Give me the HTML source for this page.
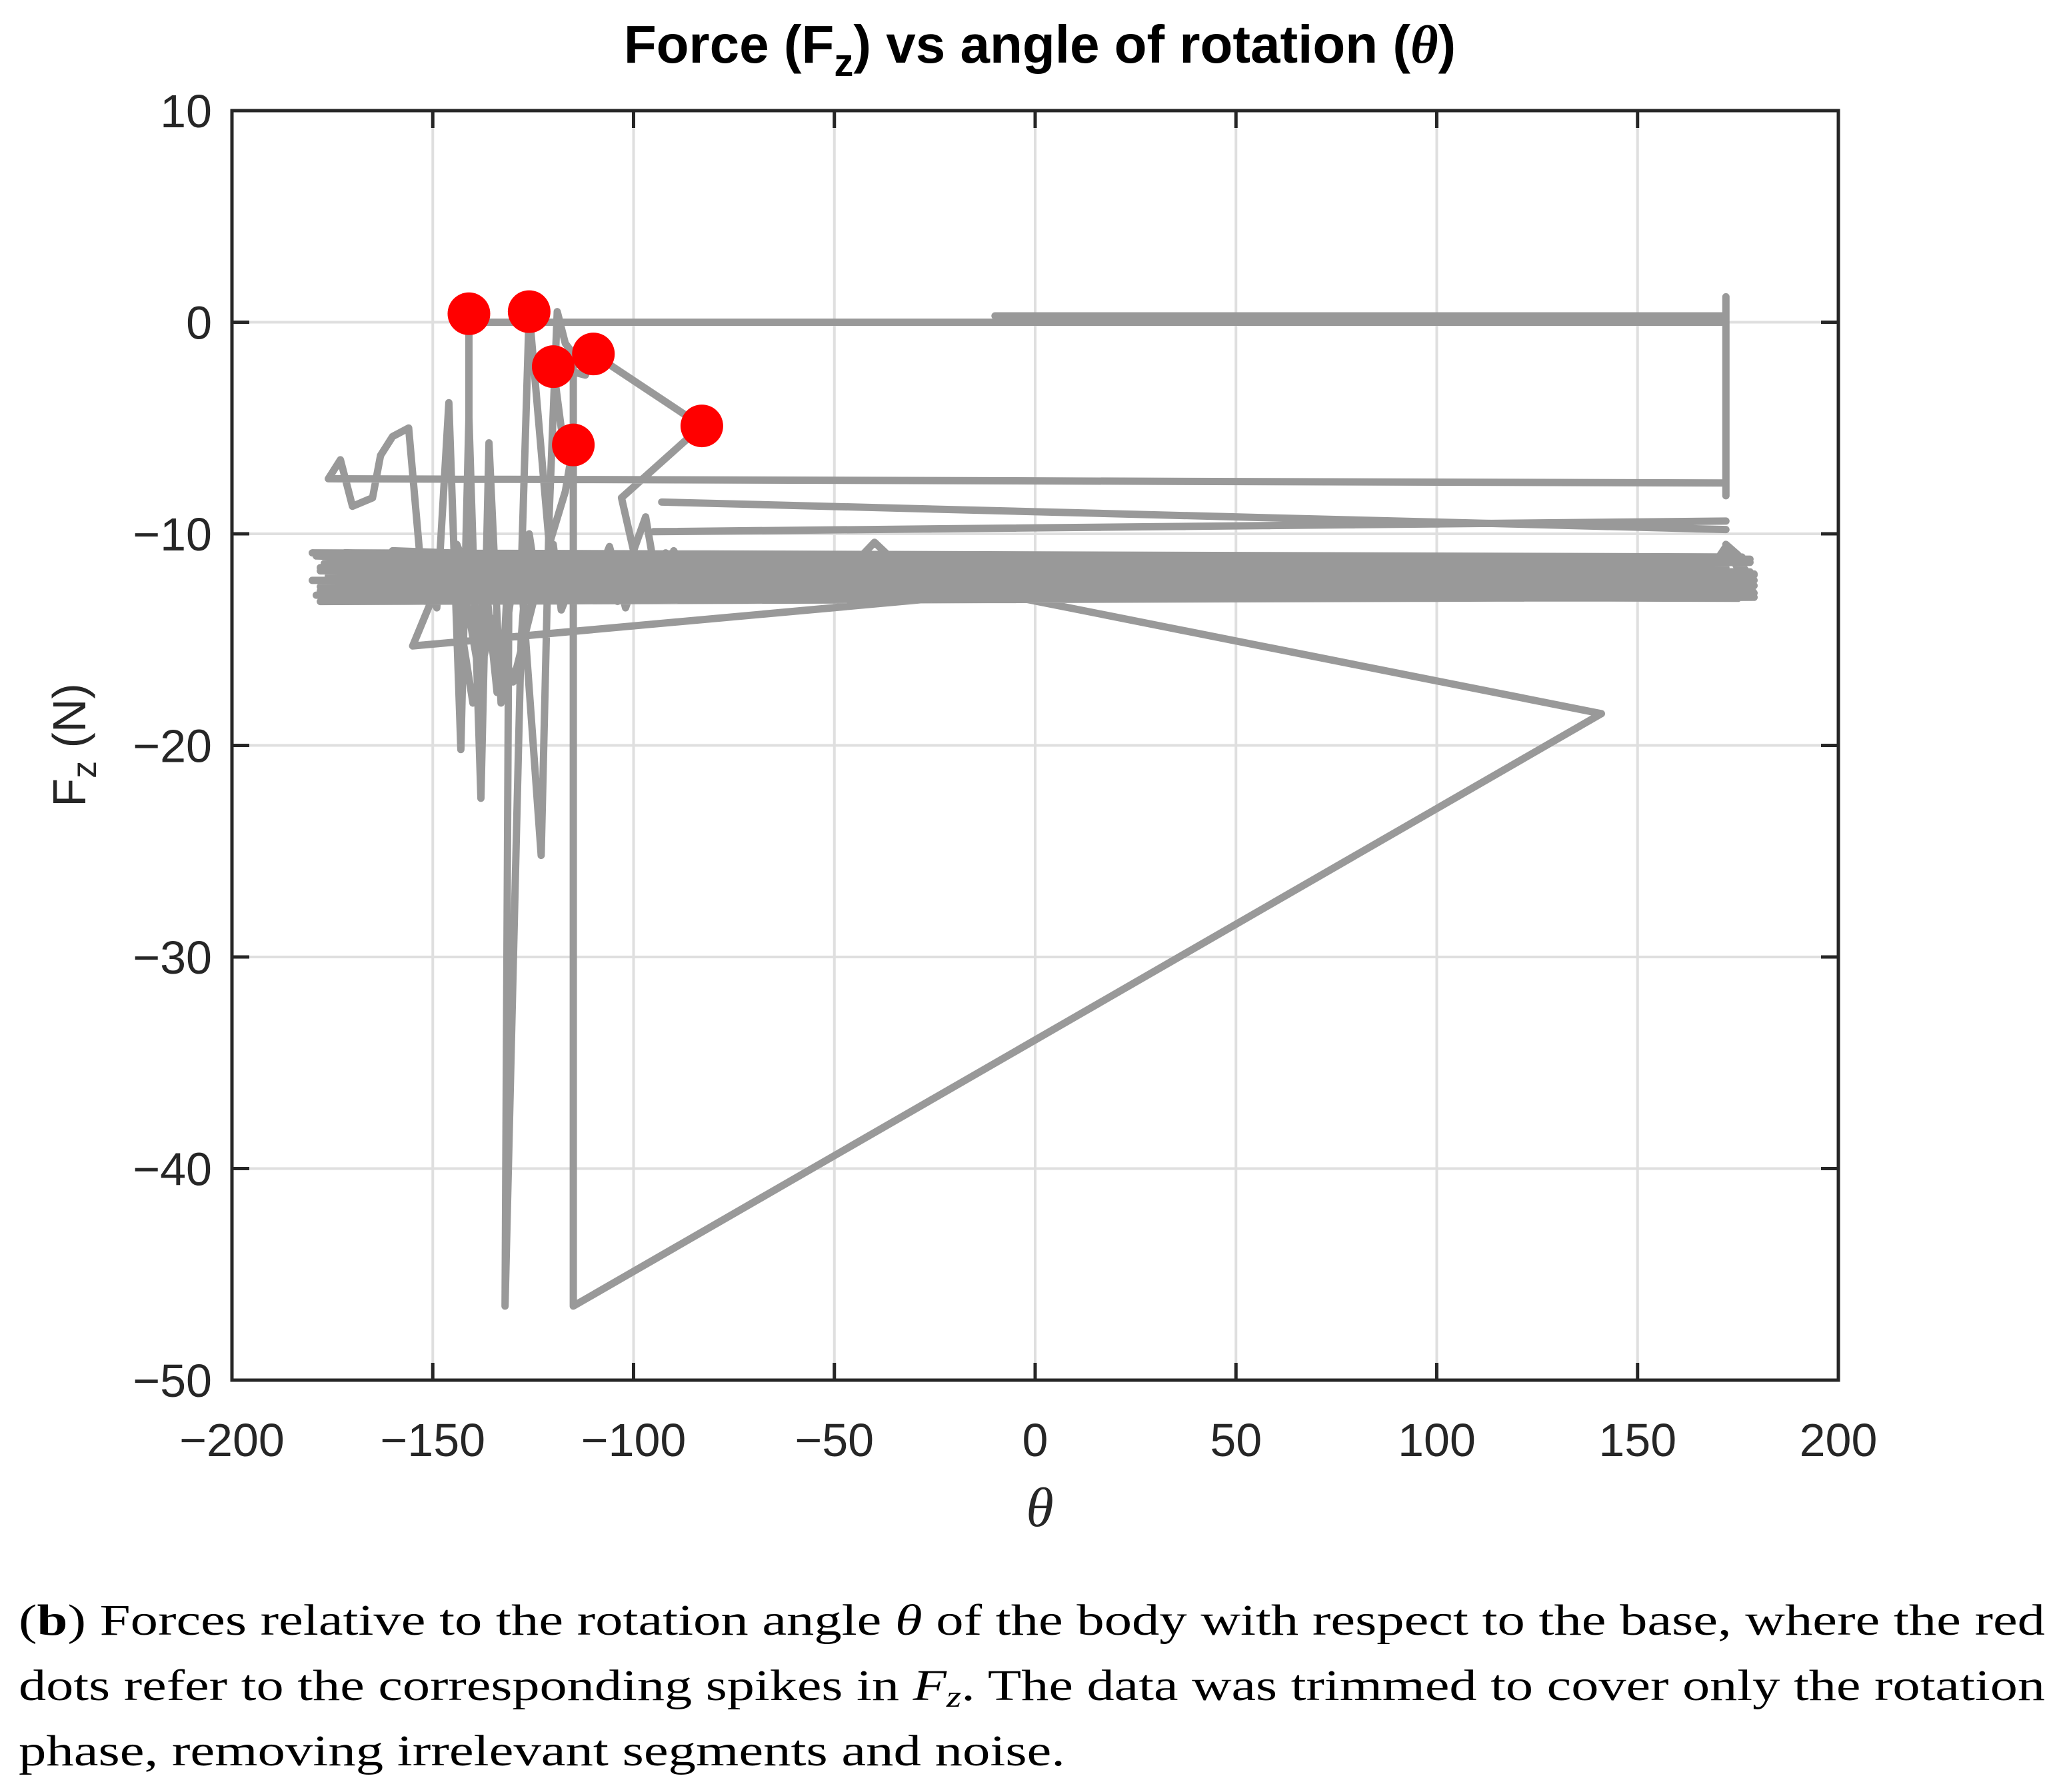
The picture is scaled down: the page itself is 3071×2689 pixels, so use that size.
<!DOCTYPE html>
<html><head><meta charset="utf-8"><style>
html,body{margin:0;padding:0;background:#fff;}
svg{display:block;}
</style></head><body>
<svg id="chart" width="3071" height="2689" viewBox="0 0 3071 2689" xmlns="http://www.w3.org/2000/svg">
<rect x="0" y="0" width="3071" height="2689" fill="#fff"/>
<text x="1560" y="94" text-anchor="middle" font-family="Liberation Sans, sans-serif" font-weight="bold" font-size="80" fill="#000">Force (F<tspan font-size="58" dy="20">z</tspan><tspan dy="-20">) vs angle of rotation (</tspan><tspan font-family="Liberation Serif, serif" font-style="italic">θ</tspan>)</text>
<g id="grid"></g>
<g id="series"></g>
<g id="markers"></g>
<rect x="348" y="166" width="2410" height="1905" fill="none" stroke="#262626" stroke-width="5"/>
<g id="ticks"></g>
<text x="1560" y="2290" text-anchor="middle" font-family="Liberation Serif, serif" font-style="italic" font-size="84" fill="#262626">θ</text>
<text transform="translate(128,1118) rotate(-90)" text-anchor="middle" font-family="Liberation Sans, sans-serif" font-size="70" fill="#262626">F<tspan font-size="52" dy="16">z</tspan><tspan dy="-16"> (N)</tspan></text>
<g font-family="Liberation Serif, serif" font-size="66" fill="#000">
<text x="28" y="2453" textLength="3040" lengthAdjust="spacingAndGlyphs">(<tspan font-weight="bold">b</tspan>) Forces relative to the rotation angle <tspan font-style="italic">θ</tspan> of the body with respect to the base, where the red</text>
<text x="28" y="2551" textLength="3040" lengthAdjust="spacingAndGlyphs">dots refer to the corresponding spikes in <tspan font-style="italic">F<tspan font-size="46" dy="10">z</tspan></tspan><tspan dy="-10">. The data was trimmed to cover only the rotation</tspan></text>
<text x="28" y="2649" textLength="1570" lengthAdjust="spacingAndGlyphs">phase, removing irrelevant segments and noise.</text>
</g>
</svg>
<script>
const xTicks = [-200,-150,-100,-50,0,50,100,150,200];
const yTicks = [10,0,-10,-20,-30,-40,-50];
// NaN entries separate independent trace segments
const theta = [
 -83,-103,-100,-97,-94,-92,NaN,
 -95,172,NaN,
 -93,172,NaN,
 -83,-110,-112,-120,-118,-115,-117,-121,-126,-128,-123,-121,-119,-117,-115,-115,141,-10,
 -180,178,-178,179,-180,178,-178,179,-178,175,-175,177,-176,178,-177,176,-172,150,-150,170,-160,160,-170,179,-175,172,-178,176,-179,175,
 -179,178,-177,179,-176,177,-175,175,-170,170,-178,173,-177,179,-176,178,175,172,178,176,NaN,
 -141,172,172,172,NaN,
 172,-176,-173,-170,-165,-163,-160,-156,-153,-149,-146,-143,-141,-138,-136,-133,-131,-132,-128,-126,-124,-130,-135,-140,-145,-150,-155,-10,NaN,
 -10,172,NaN,
 -141,-141,-144,-139,-137,-134,-129,-127,-124,-120,-118,-113,-110,-106,-102,-98,-94,-90,-86,-80,-70,-60,-50,-40,-30,-20,
 -160,-155,-150,-145,-140,-136,-132,-128,-124,-120,-116,-112,-108,-104,-100,-96,-92,-88,-60,-40,-30,0,40,80,120,150,165,172,176,179];
const fz = [
 -4.9,-8.3,-10.8,-9.2,-12.5,-11,NaN,
 -9.9,-9.4,NaN,
 -8.5,-9.8,NaN,
 -4.9,-1.5,-2.5,-2.1,-5,-5.8,-8,-10.5,0.5,-12,-25.2,-9,0.5,-1,-1.5,-46.5,-18.5,-12.8,
 -10.9,-11.2,-11.6,-11.9,-12.2,-12.4,-12.7,-13.0,-13.2,-12.9,-12.5,-12.3,-12.0,-11.8,-11.4,-11.1,-10.9,-11.5,-12.3,-12.6,-11.8,-12.1,-12.0,-12.2,-11.7,-11.6,-12.5,-12.8,-12.9,-13.0,
 -11.05,-11.35,-11.65,-11.95,-12.25,-12.55,-12.85,-13.05,-12.6,-12.15,-11.75,-11.25,-11.5,-12.45,-12.7,-12.9,-11.0,-10.5,-12.0,-12.3,NaN,
 0,0,1.2,-8.2,NaN,
 -7.6,-7.4,-6.5,-8.7,-8.3,-6.3,-5.4,-5.0,-11.5,-13.5,-3.8,-20.2,-4.5,-22.5,-5.7,-18,-11,-46.5,-15,-10,-12.5,-17,-14,-18,-12,-13,-15.3,-12.8,NaN,
 0.3,0.3,NaN,
 0.4,-12,-10.5,-16,-12,-17.5,-11,-14,-12.8,-10.5,-13.6,-11.2,-12.5,-10.6,-13.5,-11.3,-12.6,-10.8,-12.2,-11.4,-12.6,-11.2,-12.4,-10.4,-12.2,-11.8,
 -10.8,-12.4,-11.0,-12.6,-11.2,-12.8,-11.0,-12.5,-11.3,-13.0,-11.2,-12.6,-11.0,-13.2,-11.1,-12.4,-10.9,-12.2,-11.6,-12.3,-11.4,-12.0,-12.4,-11.6,-12.2,-11.8,-12.6,-10.6,-12.0,-12.8];
const markerTheta = [-141,-126,-120,-110,-115,-83];
const markerFz = [0.4,0.5,-2.1,-1.5,-5.8,-4.9];

const NS = "http://www.w3.org/2000/svg";
const X0=348, X1=2758, Y0=166, Y1=2071;
function sx(v){return X0+(v+200)/400*(X1-X0);}
function sy(v){return Y0+(10-v)/60*(Y1-Y0);}
const grid=document.getElementById('grid'), ticks=document.getElementById('ticks');
function mk(tag,attrs,parent){const e=document.createElementNS(NS,tag);for(const k in attrs)e.setAttribute(k,attrs[k]);parent.appendChild(e);return e;}
xTicks.forEach(v=>{
  const x=sx(v);
  const g=mk('line',{x1:x,x2:x,y1:Y0,y2:Y1,stroke:'#dfdfdf','stroke-width':4},grid);
  
  
  const t1=mk('line',{x1:x,x2:x,y1:Y1,y2:Y1-26,stroke:'#262626','stroke-width':5},ticks);
  
  
  const t2=mk('line',{x1:x,x2:x,y1:Y0,y2:Y0+26,stroke:'#262626','stroke-width':5},ticks);
  
  
  const lb=mk('text',{x:x,y:2185,'text-anchor':'middle','font-family':'Liberation Sans, sans-serif','font-size':70,fill:'#262626'},ticks);
  lb.textContent=(v<0?'\u2212'+(-v):String(v));
  
  
});
yTicks.forEach(v=>{
  const y=sy(v);
  const g=mk('line',{x1:X0,x2:X1,y1:y,y2:y,stroke:'#dfdfdf','stroke-width':4},grid);
  
  
  const t1=mk('line',{x1:X0,x2:X0+26,y1:y,y2:y,stroke:'#262626','stroke-width':5},ticks);
  
  
  const t2=mk('line',{x1:X1,x2:X1-26,y1:y,y2:y,stroke:'#262626','stroke-width':5},ticks);
  
  
  const lb=mk('text',{x:318,y:y+25,'text-anchor':'end','font-family':'Liberation Sans, sans-serif','font-size':70,fill:'#262626'},ticks);
  lb.textContent=(v<0?'\u2212'+(-v):String(v));
  
  
});
let d='', pen=false;
theta.forEach((t,i)=>{
  if(isNaN(t)||isNaN(fz[i])){pen=false;return;}
  d+=(pen?'L':'M')+sx(t).toFixed(1)+' '+sy(fz[i]).toFixed(1);
  pen=true;
});
const pl=mk('path',{d:d,fill:'none',stroke:'#999999','stroke-width':11,'stroke-linejoin':'round','stroke-linecap':'round'},document.getElementById('series'));


markerTheta.forEach((t,i)=>{
  const c=mk('circle',{cx:sx(t),cy:sy(markerFz[i]),r:32,fill:'#ff0000'},document.getElementById('markers'));
  
  
});
</script>
</body></html>
